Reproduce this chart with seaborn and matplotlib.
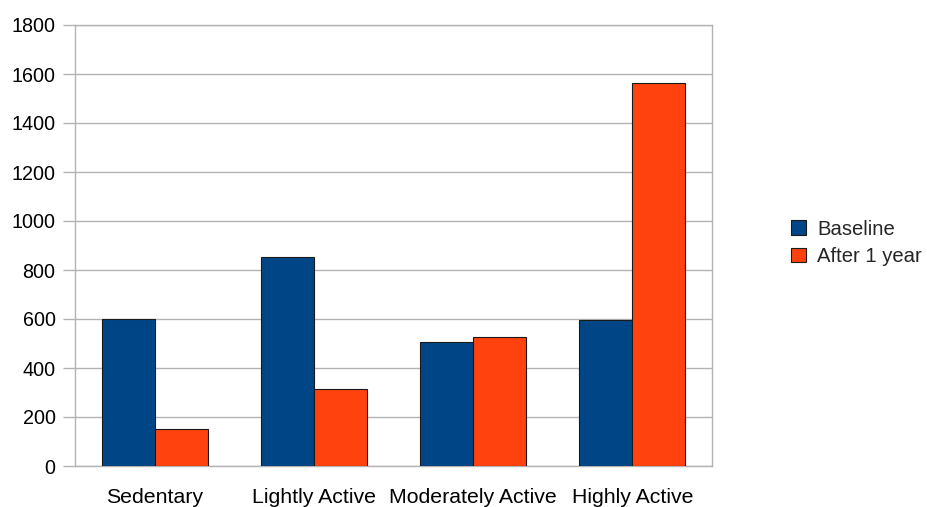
import matplotlib
matplotlib.use("Agg")
import matplotlib.pyplot as plt
import seaborn as sns
import pandas as pd
from matplotlib.patches import Patch
from matplotlib.ticker import FixedLocator

categories = ["Sedentary", "Lightly Active", "Moderately Active", "Highly Active"]
series_names = ["Baseline", "After 1 year"]
baseline = [600, 855, 505, 595]
after_1_year = [150, 315, 525, 1565]
y_ticks = [0, 200, 400, 600, 800, 1000, 1200, 1400, 1600, 1800]
colors = ["#004586", "#ff420e"]

df = pd.DataFrame({
    "Activity": categories * 2,
    "Series": [series_names[0]] * len(categories) + [series_names[1]] * len(categories),
    "Value": baseline + after_1_year,
})

sns.set_theme(style="white")
plt.rcParams["font.family"] = ["Liberation Sans", "DejaVu Sans"]

fig = plt.figure(figsize=(9.27, 5.07), dpi=100)
ax = fig.add_axes([75 / 927, 1 - 466 / 507, (712 - 75) / 927, (466 - 25) / 507])

sns.barplot(data=df, x="Activity", y="Value", hue="Series", order=categories,
            hue_order=series_names, palette=colors, saturation=1, width=0.667,
            dodge=True, edgecolor="#1a1a1a", linewidth=0.8, legend=False, ax=ax,
            zorder=3)

ax.set_xlim(-0.5, len(categories) - 0.5)
ax.set_ylim(0, 1800)
ax.set_yticks(y_ticks)
ax.set_yticklabels([str(v) for v in y_ticks], fontsize=14.2, color="#000000")
ax.set_xlabel("")
ax.set_ylabel("")
ax.grid(axis="y", color="#b3b3b3", linewidth=1, zorder=0)
ax.set_axisbelow(True)

ax.xaxis.set_minor_locator(FixedLocator([i - 0.5 for i in range(len(categories) + 1)]))
ax.tick_params(axis="x", which="major", length=0, pad=15.5, labelsize=15.3, labelcolor="#000000")
ax.tick_params(axis="x", which="minor", length=9, width=1, color="#b3b3b3", direction="out")
ax.tick_params(axis="y", which="major", length=9, width=1, color="#b3b3b3", direction="out",
               pad=5, left=True)

for side in ["left", "right", "bottom", "top"]:
    ax.spines[side].set_visible(True)
    ax.spines[side].set_color("#b3b3b3")
    ax.spines[side].set_linewidth(1)

handles = [Patch(facecolor=c, edgecolor="#1a1a1a", linewidth=0.8) for c in colors]
fig.legend(handles, series_names, loc="center left", bbox_to_anchor=(791 / 927, 1 - 243 / 507),
           frameon=False, fontsize=14.6, handlelength=0.75, handleheight=0.75,
           handletextpad=0.55, labelspacing=0.4, borderaxespad=0, borderpad=0)

fig.savefig("out.png", dpi=100, facecolor="white")
